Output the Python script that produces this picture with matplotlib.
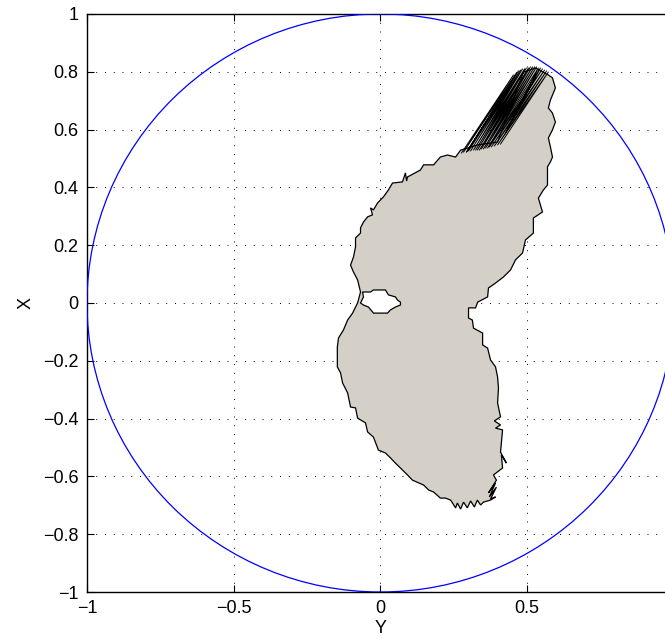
import matplotlib
matplotlib.use("Agg")
import matplotlib.pyplot as plt
from matplotlib.patches import Circle
from matplotlib.ticker import FixedLocator, FuncFormatter

plt.rcParams['font.family'] = ['Liberation Sans', 'DejaVu Sans']

# outer boundary of the region (horizontal = Y, vertical = X)
y_outer = [0.572, 0.586, 0.596, 0.579, 0.572, 0.586, 0.596, 0.586, 0.572, 0.579,
           0.586, 0.579, 0.569, 0.569, 0.555, 0.538, 0.552, 0.521, 0.521, 0.494,
           0.484, 0.460, 0.443, 0.419, 0.392, 0.368, 0.365, 0.331, 0.324, 0.300,
           0.300, 0.313, 0.317, 0.348, 0.348, 0.365, 0.375, 0.392, 0.399, 0.402,
           0.399, 0.409, 0.388, 0.409, 0.392, 0.416, 0.409, 0.429, 0.412, 0.416,
           0.385, 0.395, 0.368, 0.392, 0.371, 0.395, 0.375, 0.392, 0.375, 0.351,
           0.341, 0.330, 0.320, 0.307, 0.296, 0.283, 0.273, 0.262, 0.256, 0.239,
           0.221, 0.204, 0.181, 0.164, 0.147, 0.109, 0.092, 0.075, 0.051, 0.034,
           0.017, -0.007, -0.024, -0.044, -0.051, -0.078, -0.085, -0.102, -0.112, -0.129,
           -0.136, -0.147, -0.147, -0.143, -0.126, -0.112, -0.095, -0.078, -0.068, -0.078,
           -0.092, -0.102, -0.092, -0.085, -0.085, -0.068, -0.068, -0.058, -0.044, -0.027,
           -0.034, -0.024, -0.010, 0.010, 0.027, 0.041, 0.075, 0.085, 0.089, 0.092,
           0.136, 0.147, 0.181, 0.204, 0.228, 0.256, 0.273, 0.296, 0.331, 0.399,
           0.487, 0.528]
x_outer = [0.789, 0.779, 0.744, 0.702, 0.675, 0.657, 0.626, 0.599, 0.571, 0.540,
           0.505, 0.488, 0.471, 0.408, 0.391, 0.363, 0.315, 0.294, 0.242, 0.218,
           0.173, 0.149, 0.114, 0.090, 0.069, 0.052, 0.021, 0.003, -0.017, -0.017,
           -0.052, -0.059, -0.087, -0.104, -0.145, -0.156, -0.197, -0.221, -0.256, -0.294,
           -0.346, -0.394, -0.408, -0.422, -0.433, -0.439, -0.516, -0.554, -0.526, -0.571,
           -0.595, -0.613, -0.657, -0.623, -0.671, -0.637, -0.678, -0.671, -0.682, -0.689,
           -0.699, -0.682, -0.706, -0.685, -0.709, -0.689, -0.713, -0.692, -0.709, -0.682,
           -0.675, -0.675, -0.654, -0.647, -0.630, -0.613, -0.595, -0.578, -0.554, -0.536,
           -0.519, -0.509, -0.464, -0.446, -0.415, -0.398, -0.363, -0.360, -0.311, -0.277,
           -0.242, -0.221, -0.152, -0.121, -0.093, -0.059, -0.035, 0.000, 0.038, 0.080,
           0.107, 0.131, 0.159, 0.194, 0.225, 0.242, 0.260, 0.280, 0.298, 0.305,
           0.329, 0.322, 0.346, 0.367, 0.391, 0.415, 0.419, 0.450, 0.422, 0.436,
           0.460, 0.478, 0.478, 0.505, 0.512, 0.505, 0.529, 0.536, 0.547, 0.557,
           0.799, 0.813]

# inner hole
y_hole = [-0.061, -0.034, -0.024, 0.017, 0.027, 0.051, 0.058, 0.068, 0.068, 0.051,
          0.034, 0.024, -0.024, -0.027, -0.041, -0.058, -0.068, -0.058]
x_hole = [0.038, 0.038, 0.045, 0.045, 0.028, 0.021, 0.010, 0.003, -0.007, -0.014,
          -0.024, -0.035, -0.035, -0.031, -0.014, -0.007, 0.000, 0.021]

# zigzag strokes at the top of the region
y_fan = [0.276, 0.453, 0.283, 0.463, 0.293, 0.470, 0.300, 0.477, 0.307, 0.484,
         0.317, 0.491, 0.324, 0.497, 0.330, 0.504, 0.337, 0.511, 0.344, 0.518,
         0.351, 0.525, 0.358, 0.532, 0.365, 0.538, 0.426, 0.545, 0.371, 0.552,
         0.378, 0.559, 0.388, 0.566, 0.399, 0.572, 0.409]
x_fan = [0.519, 0.789, 0.522, 0.796, 0.522, 0.803, 0.526, 0.806, 0.526, 0.810,
         0.529, 0.810, 0.529, 0.813, 0.529, 0.813, 0.529, 0.817, 0.533, 0.817,
         0.533, 0.817, 0.536, 0.817, 0.536, 0.813, 0.588, 0.813, 0.540, 0.810,
         0.540, 0.806, 0.543, 0.803, 0.547, 0.799, 0.550]

x_ticks = [-1, -0.5, 0, 0.5]
y_ticks = [-1, -0.8, -0.6, -0.4, -0.2, 0, 0.2, 0.4, 0.6, 0.8, 1]

fig = plt.figure(figsize=(6.65, 6.38), dpi=100)
ax = fig.add_axes([0.1308, 0.0721, 0.8827, 0.906])

ax.fill(y_outer, x_outer, facecolor='#d4d0c8', edgecolor='black', linewidth=0.9, zorder=2)
ax.fill(y_hole, x_hole, facecolor='white', edgecolor='black', linewidth=0.9, zorder=3)
ax.plot(y_fan, x_fan, color='black', linewidth=0.7, zorder=4)
ax.add_patch(Circle((0, 0), 1, fill=False, edgecolor='blue', linewidth=0.9, zorder=5))

ax.set_xlim(-1, 1)
ax.set_ylim(-1, 1)
ax.xaxis.set_major_locator(FixedLocator(x_ticks))
ax.yaxis.set_major_locator(FixedLocator(y_ticks))
fmt = FuncFormatter(lambda v, p: ('%g' % v).replace('-', '\u2212'))
ax.xaxis.set_major_formatter(fmt)
ax.yaxis.set_major_formatter(fmt)
ax.tick_params(direction='in', length=5, width=0.8, top=True, right=True,
               labelsize=13, pad=6)
ax.grid(True, color='black', linestyle=(0, (1, 8)), linewidth=0.7)
ax.set_axisbelow(True)
for s in ax.spines.values():
    s.set_linewidth(1.0)

ax.set_xlabel('Y', fontsize=13, labelpad=2)
ax.set_ylabel('X', fontsize=13, labelpad=6)

fig.savefig('out.png', dpi=100)
